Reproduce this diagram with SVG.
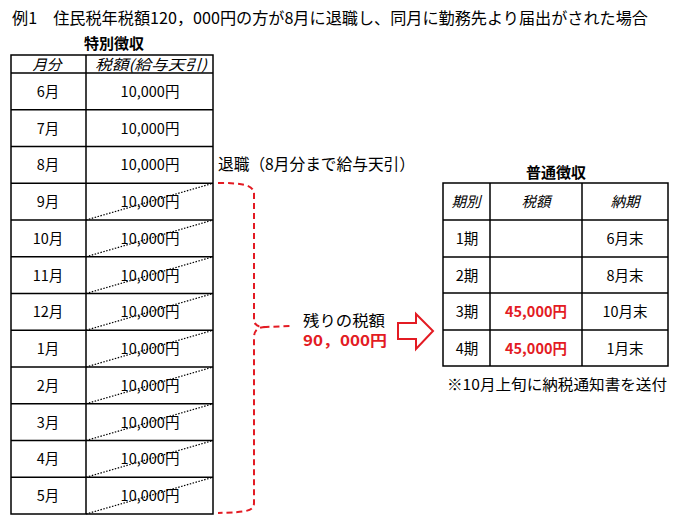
<svg xmlns="http://www.w3.org/2000/svg" width="690" height="530" viewBox="0 0 690 530">
<style>
text{font-family:"Noto Sans CJK JP","Noto Sans",sans-serif;fill:#000}
.t{font-size:16px}
.c{font-size:14.5px;text-anchor:middle}
.h{font-size:14.5px}
.i{font-style:italic}
.b{font-weight:bold}
.r{fill:#e31b23}
.grid{fill:none;stroke:#000;stroke-width:1.5}
.dot{stroke:#000;stroke-width:1.2;stroke-dasharray:1.5 1.5}
.brace{fill:none;stroke:#e31b23;stroke-width:2;stroke-dasharray:6 4}
</style>
<rect width="690" height="530" fill="#fff"/>
<text class="t" x="12" y="24" textLength="636" lengthAdjust="spacingAndGlyphs">例1　住民税年税額120，000円の方が8月に退職し、同月に勤務先より届出がされた場合</text>

<g id="special">
<text class="c b" x="114" y="49" style="font-size:15px">特別徴収</text>
<rect class="grid" x="11" y="55" width="202" height="459"/>
<line class="grid" x1="86" y1="55" x2="86" y2="514"/>
<g class="grid">
<line x1="11" y1="73" x2="213" y2="73"/>
<line x1="11" y1="109.75" x2="213" y2="109.75"/>
<line x1="11" y1="146.5" x2="213" y2="146.5"/>
<line x1="11" y1="183.25" x2="213" y2="183.25"/>
<line x1="11" y1="220" x2="213" y2="220"/>
<line x1="11" y1="256.75" x2="213" y2="256.75"/>
<line x1="11" y1="293.5" x2="213" y2="293.5"/>
<line x1="11" y1="330.25" x2="213" y2="330.25"/>
<line x1="11" y1="367" x2="213" y2="367"/>
<line x1="11" y1="403.75" x2="213" y2="403.75"/>
<line x1="11" y1="440.5" x2="213" y2="440.5"/>
<line x1="11" y1="477.25" x2="213" y2="477.25"/>
</g>
<text class="c i h" x="47" y="69.5">月分</text>
<text class="c i h" x="151" y="69.5" textLength="112" lengthAdjust="spacingAndGlyphs">税額(給与天引)</text>
<text class="c" x="48" y="96.5">6月</text><text class="c" x="150" y="96.5">10,000円</text>
<text class="c" x="48" y="133.5">7月</text><text class="c" x="150" y="133.5">10,000円</text>
<text class="c" x="48" y="170">8月</text><text class="c" x="150" y="170">10,000円</text>
<text class="c" x="48" y="207">9月</text><text class="c" x="150" y="207">10,000円</text>
<text class="c" x="48" y="243.5">10月</text><text class="c" x="150" y="243.5">10,000円</text>
<text class="c" x="48" y="280.5">11月</text><text class="c" x="150" y="280.5">10,000円</text>
<text class="c" x="48" y="317">12月</text><text class="c" x="150" y="317">10,000円</text>
<text class="c" x="48" y="354">1月</text><text class="c" x="150" y="354">10,000円</text>
<text class="c" x="48" y="390.5">2月</text><text class="c" x="150" y="390.5">10,000円</text>
<text class="c" x="48" y="427.5">3月</text><text class="c" x="150" y="427.5">10,000円</text>
<text class="c" x="48" y="464">4月</text><text class="c" x="150" y="464">10,000円</text>
<text class="c" x="48" y="501">5月</text><text class="c" x="150" y="501">10,000円</text>
<g class="dot">
<line x1="86" y1="220" x2="213" y2="183.25"/>
<line x1="86" y1="256.75" x2="213" y2="220"/>
<line x1="86" y1="293.5" x2="213" y2="256.75"/>
<line x1="86" y1="330.25" x2="213" y2="293.5"/>
<line x1="86" y1="367" x2="213" y2="330.25"/>
<line x1="86" y1="403.75" x2="213" y2="367"/>
<line x1="86" y1="440.5" x2="213" y2="403.75"/>
<line x1="86" y1="477.25" x2="213" y2="440.5"/>
<line x1="86" y1="514" x2="213" y2="477.25"/>
</g>
</g>

<g id="retire">
<text class="t" x="218" y="170" textLength="197" lengthAdjust="spacingAndGlyphs">退職（8月分まで給与天引）</text>
</g>

<g id="connectors">
<path class="brace" d="M218,183 C240,183 254,184 254,194 L254,318 C254,326 258,327 266,327 L291,326 M266,327 C258,327 254,330 254,338 L254,503 C254,511 248,512 218,513"/>
<path fill="#fff" stroke="#e31b23" stroke-width="2" d="M398,323 L416,323 L416,314 L433,331 L416,349 L416,339 L398,339 Z"/>
</g>

<g id="remain">
<text x="303" y="326" style="font-size:15px" textLength="82" lengthAdjust="spacingAndGlyphs">残りの税額</text>
<text class="b r" x="303" y="346" style="font-size:15px" textLength="84" lengthAdjust="spacingAndGlyphs">90，000円</text>
</g>

<g id="normal">
<text class="c b" x="556" y="178" style="font-size:15px">普通徴収</text>
<rect class="grid" x="443" y="183" width="225" height="183"/>
<g class="grid">
<line x1="490" y1="183" x2="490" y2="366"/>
<line x1="582" y1="183" x2="582" y2="366"/>
<line x1="443" y1="220" x2="668" y2="220"/>
<line x1="443" y1="257" x2="668" y2="257"/>
<line x1="443" y1="293" x2="668" y2="293"/>
<line x1="443" y1="330" x2="668" y2="330"/>
</g>
<text class="c i h" x="466" y="207">期別</text>
<text class="c i h" x="536" y="207">税額</text>
<text class="c i h" x="625" y="207">納期</text>
<text class="c" x="467" y="244">1期</text><text class="c" x="625" y="244">6月末</text>
<text class="c" x="467" y="281">2期</text><text class="c" x="625" y="281">8月末</text>
<text class="c" x="467" y="317">3期</text><text class="c b r" x="536" y="317">45,000円</text><text class="c" x="625" y="317">10月末</text>
<text class="c" x="467" y="354">4期</text><text class="c b r" x="536" y="354">45,000円</text><text class="c" x="625" y="354">1月末</text>
<text class="c" x="557" y="390" style="font-size:15px" textLength="220" lengthAdjust="spacingAndGlyphs">※10月上旬に納税通知書を送付</text>
</g>
</svg>
